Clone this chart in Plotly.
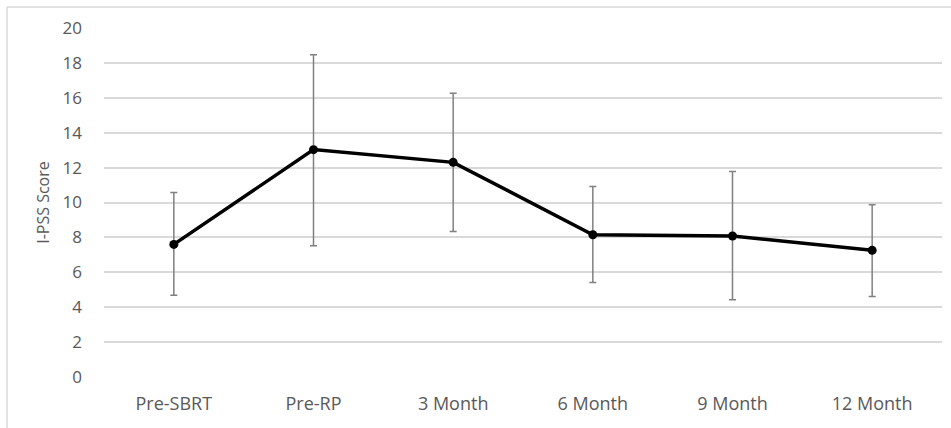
import plotly.graph_objects as go

categories = ["Pre-SBRT", "Pre-RP", "3 Month", "6 Month", "9 Month", "12 Month"]
mean_score = [7.6, 13.03, 12.3, 8.15, 8.08, 7.26]
upper_bar = [10.57, 18.47, 16.26, 10.91, 11.78, 9.87]
lower_bar = [4.68, 7.52, 8.34, 5.42, 4.43, 4.62]
y_ticks = [0, 2, 4, 6, 8, 10, 12, 14, 16, 18, 20]

err_plus = [u - m for u, m in zip(upper_bar, mean_score)]
err_minus = [m - l for m, l in zip(mean_score, lower_bar)]

FONT = "Open Sans"
GRAY_TXT = "#595959"

fig = go.Figure()
fig.add_trace(go.Scatter(
    x=categories, y=mean_score,
    mode="lines+markers",
    line=dict(color="black", width=3.5),
    marker=dict(color="black", size=9),
    error_y=dict(type="data", symmetric=False, array=err_plus, arrayminus=err_minus,
                 color="#808080", thickness=1.5, width=3.5),
    showlegend=False,
))

L, R, T, B = 104, 9, 28, 51
W, H = 951, 428
pw, ph = W - L - R, H - T - B
fx = (7 - L) / pw
fy = 1 + (T - 7) / ph

fig.update_layout(
    width=W, height=H,
    margin=dict(l=L, r=R, t=T, b=B),
    paper_bgcolor="white", plot_bgcolor="white",
    font=dict(family=FONT, size=16, color=GRAY_TXT),
    xaxis=dict(
        type="category", showgrid=False, zeroline=False, showline=False,
        ticks="", ticklabelstandoff=14,
        tickfont=dict(family=FONT, size=18, color=GRAY_TXT),
        range=[-0.5, 5.5],
    ),
    yaxis=dict(
        range=[0, 20], tickvals=y_ticks, showgrid=True, gridcolor="#d9d9d9", gridwidth=1.5,
        zeroline=False, showline=False, ticks="", ticklabelstandoff=21,
        tickfont=dict(family=FONT, size=17, color=GRAY_TXT),
        title=dict(text="I-PSS Score", font=dict(family=FONT, size=16, color=GRAY_TXT), standoff=8),
    ),
    shapes=[
        dict(type="line", xref="paper", yref="paper", x0=fx, x1=1.05, y0=fy, y1=fy,
             line=dict(color="#d9d9d9", width=1.5)),
        dict(type="line", xref="paper", yref="paper", x0=fx, x1=fx, y0=fy, y1=-0.2,
             line=dict(color="#d9d9d9", width=1.5)),
    ],
)

fig.write_html("out.html", config={"displayModeBar": False},
               post_script="document.body.style.margin='0';document.body.style.padding='0';")
